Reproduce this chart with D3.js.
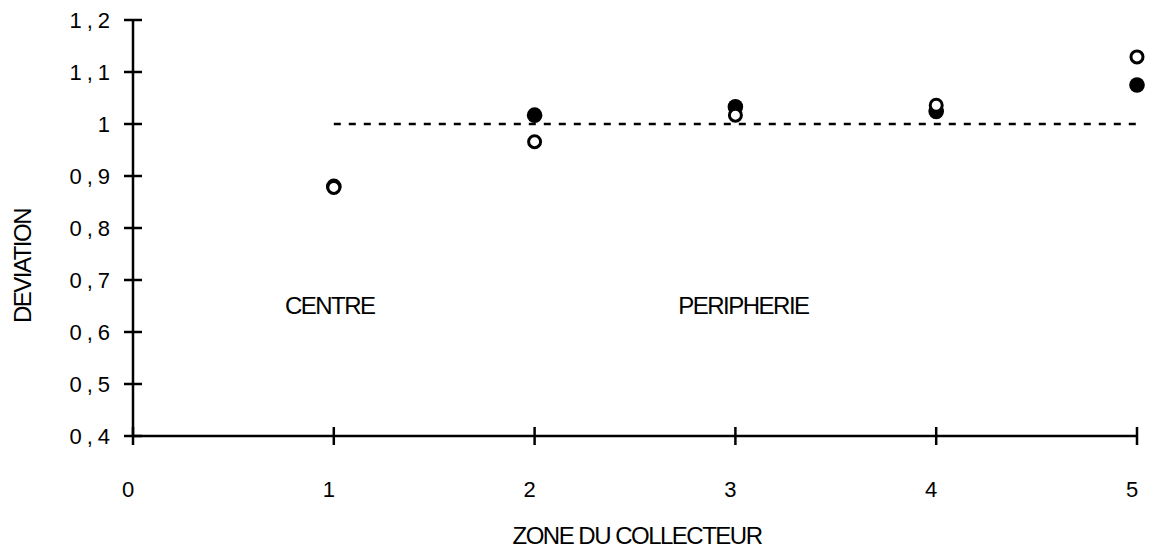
<!DOCTYPE html>
<html>
<head>
<meta charset="utf-8">
<script src="https://cdn.jsdelivr.net/npm/d3@7"></script>
<style>
  html, body { margin: 0; padding: 0; background: #fff; }
  svg { display: block; }
  .tick-label { font-family: "Liberation Sans", Arial, sans-serif; font-size: 22px; fill: #000; letter-spacing: 5px; }
  .cond { font-family: "Liberation Sans", Arial, sans-serif; font-size: 24px; fill: #000; letter-spacing: -1.5px; }
</style>
</head>
<body>
<svg id="chart" width="1150" height="553"></svg>
<script>
// Collector zones and measured deviation (two series)
const zones = [1, 2, 3, 4, 5];
const filledSeries = [0.880, 1.017, 1.033, 1.024, 1.075];
const openSeries = [0.878, 0.966, 1.017, 1.036, 1.129];
const yTicks = [0.4, 0.5, 0.6, 0.7, 0.8, 0.9, 1.0, 1.1, 1.2];
const xTicks = [0, 1, 2, 3, 4, 5];
const refLevel = 1;
const refZones = [1, 5];
const annotations = [
  { text: "CENTRE", zone: 0.98, value: 0.652 },
  { text: "PERIPHERIE", zone: 3.04, value: 0.652 }
];

const svg = d3.select("#chart");
const x = d3.scaleLinear().domain([0, 5]).range([133, 1137]);
const y = d3.scaleLinear().domain([0.4, 1.2]).range([436, 20]);

const fmt = v => (Number.isInteger(v) ? String(v) : d3.format(".1f")(v).replace(".", ","));

// Y axis: line plus ticks crossing it
const yAxis = svg.append("g");
yAxis.append("line")
  .attr("x1", x(0)).attr("x2", x(0))
  .attr("y1", y(1.2)).attr("y2", y(0.4))
  .attr("stroke", "#000").attr("stroke-width", 2.5);
yAxis.selectAll("line.tk").data(yTicks).join("line")
  .attr("class", "tk")
  .attr("x1", x(0) - 9).attr("x2", x(0) + 9)
  .attr("y1", d => y(d)).attr("y2", d => y(d))
  .attr("stroke", "#000").attr("stroke-width", 2.5);
yAxis.selectAll("text").data(yTicks).join("text")
  .attr("class", "tick-label")
  .attr("x", 115).attr("y", d => y(d))
  .attr("dy", "0.36em")
  .attr("text-anchor", "end")
  .text(d => fmt(d));

// X axis
const xAxis = svg.append("g");
xAxis.append("line")
  .attr("x1", x(0)).attr("x2", x(5))
  .attr("y1", y(0.4)).attr("y2", y(0.4))
  .attr("stroke", "#000").attr("stroke-width", 2.5);
xAxis.selectAll("line.tk").data(xTicks).join("line")
  .attr("class", "tk")
  .attr("x1", d => x(d)).attr("x2", d => x(d))
  .attr("y1", y(0.4) - 9).attr("y2", y(0.4) + 9)
  .attr("stroke", "#000").attr("stroke-width", 2.5);
xAxis.selectAll("text").data(xTicks).join("text")
  .attr("class", "tick-label")
  .style("letter-spacing", "0px")
  .attr("x", d => x(d) - 5).attr("y", 489)
  .attr("dy", "0.36em")
  .attr("text-anchor", "middle")
  .text(d => fmt(d));

// Reference level at 1
svg.append("line")
  .attr("x1", x(refZones[0])).attr("x2", x(refZones[1]))
  .attr("y1", y(refLevel)).attr("y2", y(refLevel))
  .attr("stroke", "#000").attr("stroke-width", 2.5)
  .attr("stroke-dasharray", "7,8");

// Filled markers, then open markers on top
svg.append("g").selectAll("circle").data(zones).join("circle")
  .attr("cx", (d) => x(d)).attr("cy", (d, i) => y(filledSeries[i]))
  .attr("r", 7.8).attr("fill", "#000");
svg.append("g").selectAll("circle").data(zones).join("circle")
  .attr("cx", (d) => x(d)).attr("cy", (d, i) => y(openSeries[i]))
  .attr("r", 6).attr("fill", "#fff")
  .attr("stroke", "#000").attr("stroke-width", 3);

// Zone annotations
svg.append("g").selectAll("text").data(annotations).join("text")
  .attr("class", "cond")
  .attr("x", d => x(d.zone)).attr("y", d => y(d.value))
  .attr("dy", "0.36em")
  .attr("text-anchor", "middle")
  .text(d => d.text);

// Axis titles
svg.append("text")
  .attr("class", "cond")
  .attr("transform", "translate(22,266) rotate(-90)")
  .attr("dy", "0.36em")
  .attr("text-anchor", "middle")
  .text("DEVIATION");
svg.append("text")
  .attr("class", "cond")
  .attr("x", 637).attr("y", 535)
  .attr("dy", "0.36em")
  .attr("text-anchor", "middle")
  .text("ZONE DU COLLECTEUR");
</script>
</body>
</html>
